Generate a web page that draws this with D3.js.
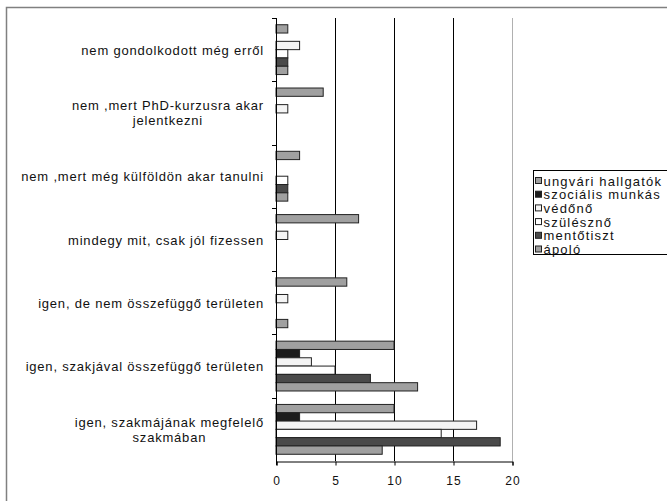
<!DOCTYPE html>
<html>
<head>
<meta charset="utf-8">
<script src="https://cdn.jsdelivr.net/npm/d3@7"></script>
<style>
  body { margin: 0; background: #fff; }
  text { font-family: "Liberation Sans", Arial, sans-serif; fill: #111; }
</style>
</head>
<body>
<script>
// Chart data (categories listed top to bottom)
var categories = [
    "nem gondolkodott még erről",
    "nem ,mert PhD-kurzusra akar\njelentkezni",
    "nem ,mert még külföldön akar tanulni",
    "mindegy mit, csak jól fizessen",
    "igen, de nem összefüggő területen",
    "igen, szakjával összefüggő területen",
    "igen, szakmájának megfelelő\nszakmában"
];
var seriesNames = ["ungvári hallgatók", "szociális munkás", "védőnő", "szülésznő", "mentőtiszt", "ápoló"];
var ungvari = [1, 4, 2, 7, 6, 10, 10];
var szocialis = [0, 0, 0, 0, 0, 2, 2];
var vedono = [2, 1, 0, 1, 1, 3, 17];
var szulesz = [1, 0, 1, 0, 0, 5, 14];
var mentotiszt = [1, 0, 1, 0, 0, 8, 19];
var apolo = [1, 0, 1, 0, 1, 12, 9];
var xTicks = [0, 5, 10, 15, 20];

var seriesValues = [ungvari, szocialis, vedono, szulesz, mentotiszt, apolo];
var colors = ["#a0a0a0", "#1c1c1c", "#f4f4f4", "#ffffff", "#4a4a4a", "#a0a0a0"];

var svgWidth = 667, svgHeight = 501;
var plot = { left: 276, right: 512, top: 18, bottom: 461 };

var svg = d3.select("body").append("svg")
    .attr("width", svgWidth)
    .attr("height", svgHeight);

// outer chart frame (runs past the picture edge)
svg.append("rect")
    .attr("x", 6.5).attr("y", 7.5)
    .attr("width", 720).attr("height", 540)
    .attr("fill", "none")
    .attr("stroke", "#808080")
    .attr("stroke-width", 1.5);

var xScale = d3.scaleLinear().domain([0, 20]).range([plot.left, plot.right]);
var y0 = d3.scaleBand().domain(categories).range([plot.top, plot.bottom]);
var y1 = d3.scaleBand().domain(seriesNames).range([0, y0.bandwidth()]).paddingOuter(0.81);

// gridlines
svg.append("g").selectAll("line")
    .data(xTicks.slice(1))
    .enter().append("line")
    .attr("x1", d => xScale(d) + 0.5).attr("x2", d => xScale(d) + 0.5)
    .attr("y1", plot.top).attr("y2", plot.bottom)
    .attr("stroke", d => d === 20 ? "#b0b0b0" : "#000")
    .attr("stroke-width", 1);

// bars
var rows = [];
seriesValues.forEach(function (vals, si) {
    vals.forEach(function (v, ci) {
        rows.push({ s: seriesNames[si], c: categories[ci], v: v, color: colors[si] });
    });
});

svg.append("g").selectAll("rect")
    .data(rows.filter(d => d.v > 0))
    .enter().append("rect")
    .attr("x", xScale(0))
    .attr("y", d => y0(d.c) + y1(d.s))
    .attr("width", d => xScale(d.v) - xScale(0))
    .attr("height", y1.bandwidth())
    .attr("fill", d => d.color)
    .attr("stroke", "#222")
    .attr("stroke-width", 1);

// x axis
var bottomAxis = d3.axisBottom(xScale).tickValues(xTicks).tickSize(4).tickPadding(11);
var xAxisG = svg.append("g")
    .attr("transform", `translate(0.5, ${plot.bottom + 0.5})`)
    .call(bottomAxis);
xAxisG.select(".domain").attr("stroke", "#000");
xAxisG.selectAll("text").attr("font-size", "12px").style("letter-spacing", "1px")
    .style("font-family", "Liberation Sans, Arial, sans-serif").attr("fill", "#111");

// y axis: line with ticks on category boundaries
var yAxisG = svg.append("g");
yAxisG.append("line")
    .attr("x1", plot.left + 0.5).attr("x2", plot.left + 0.5)
    .attr("y1", plot.top).attr("y2", plot.bottom + 4)
    .attr("stroke", "#000");
yAxisG.selectAll(".ytick")
    .data(categories)
    .enter().append("line")
    .attr("class", "ytick")
    .attr("x1", plot.left - 4).attr("x2", plot.left)
    .attr("y1", d => Math.round(y0(d)) + 0.5).attr("y2", d => Math.round(y0(d)) + 0.5)
    .attr("stroke", "#000");

// category labels
var labelRight = 264;
categories.forEach(function (c) {
    var lines = c.split("\n");
    var cy = y0(c) + y0.bandwidth() / 2;
    var lh = 15;
    var t = svg.append("text")
        .attr("font-size", "13px")
        .style("letter-spacing", "0.8px")
        .attr("y", cy - (lines.length - 1) * lh / 2 + 5)
        .attr("text-anchor", lines.length > 1 ? "middle" : "end");
    lines.forEach(function (l, i) {
        t.append("tspan").attr("x", labelRight).attr("dy", i === 0 ? 0 : lh).text(l);
    });
    if (lines.length > 1) {
        var w = d3.max(t.selectAll("tspan").nodes(), n => n.getComputedTextLength());
        t.selectAll("tspan").attr("x", labelRight - w / 2);
    }
});

// legend
var legend = svg.append("g").attr("transform", "translate(533.5, 170.5)");
legend.append("rect")
    .attr("width", 140).attr("height", 84)
    .attr("fill", "#fff").attr("stroke", "#000");
var items = legend.selectAll(".item")
    .data(seriesNames)
    .enter().append("g")
    .attr("transform", (d, i) => `translate(0, ${10.5 + i * 13.7})`);
items.append("rect")
    .attr("x", 2).attr("y", -3.5).attr("width", 6).attr("height", 6)
    .attr("fill", (d, i) => colors[i])
    .attr("stroke", "#222");
items.append("text")
    .attr("x", 10).attr("y", 4.5)
    .attr("font-size", "13px")
    .style("letter-spacing", "1.2px")
    .text(d => d);
</script>
</body>
</html>
